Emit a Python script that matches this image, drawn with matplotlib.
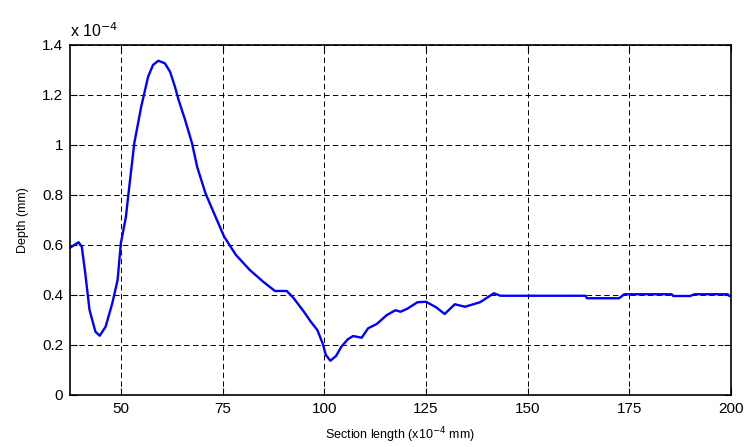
import numpy as np
import matplotlib
matplotlib.use("Agg")
import matplotlib.pyplot as plt
from matplotlib.ticker import FuncFormatter

plt.rcParams['font.family'] = ['Liberation Sans', 'DejaVu Sans']

# section length (x1e-4 mm) and depth (x1e-4 mm) along the profile
section = [37.5, 39.6, 40.4, 41.25, 42.3, 43.75, 44.8, 46.25, 47.9, 49.2,
           50.0, 51.25, 51.7, 53.3, 55.0, 56.7, 57.9, 59.2, 60.8, 62.1,
           63.3, 64.2, 65.8, 67.5, 68.75, 70.8, 72.9, 75.4, 78.3, 81.7,
           85.0, 87.9, 90.8, 92.5, 95.0, 96.7, 98.3, 99.6,
           100.4, 101.5, 102.9, 104.2, 105.8, 107.1, 109.2, 110.8, 112.9, 115.4,
           117.5, 118.75, 120.4, 122.9, 125.0, 127.5, 129.6, 132.1, 134.6, 138.3,
           141.7, 143.3, 164.2, 164.6, 172.5, 173.75, 185.4, 185.8, 190.0, 191.0,
           199.2, 199.6, 200.0]
depth = [0.589, 0.611, 0.593, 0.487, 0.34, 0.253, 0.237, 0.273, 0.367, 0.46,
         0.607, 0.713, 0.78, 1.007, 1.153, 1.273, 1.32, 1.337, 1.327, 1.293,
         1.233, 1.18, 1.1, 1.007, 0.913, 0.807, 0.727, 0.633, 0.56, 0.5,
         0.453, 0.416, 0.416, 0.387, 0.333, 0.293, 0.26, 0.207,
         0.16, 0.137, 0.156, 0.193, 0.223, 0.236, 0.229, 0.267, 0.284, 0.32,
         0.339, 0.333, 0.345, 0.371, 0.373, 0.351, 0.324, 0.363, 0.353, 0.371,
         0.407, 0.397, 0.397, 0.387, 0.387, 0.403, 0.403, 0.396, 0.396, 0.403,
         0.403, 0.396, 0.396]

xticks = [50, 75, 100, 125, 150, 175, 200]
yticks = [0, 0.2, 0.4, 0.6, 0.8, 1.0, 1.2, 1.4]

fig = plt.figure(figsize=(7.48, 4.47), dpi=100)
ax = fig.add_axes([70 / 748, 52 / 447, 661 / 748, 350 / 447])

ax.plot(section, depth, color=(0, 0, 1), lw=1.7)

ax.set_xlim(37.5, 200)
ax.set_ylim(0, 1.4)
ax.set_xticks(xticks)
ax.set_yticks(yticks)
ax.yaxis.set_major_formatter(FuncFormatter(lambda v, p: f"{v:g}"))

ax.grid(True, color='black', linestyle=(0, (5.5, 3.5)), linewidth=0.7)
ax.tick_params(direction='in', top=True, right=True, length=5, width=0.8,
               labelsize=11, pad=5)
for s in ax.spines.values():
    s.set_linewidth(1.2)

ax.text(0.0, 1.015, r"x 10$^{-4}$", transform=ax.transAxes, fontsize=11.5,
        ha='left', va='bottom')

ax.set_xlabel("Section length (x10$^{-4}$ mm)", fontsize=9, labelpad=7)
ax.set_ylabel("Depth (mm)", fontsize=9, labelpad=9)

fig.savefig("out.png", dpi=100)
